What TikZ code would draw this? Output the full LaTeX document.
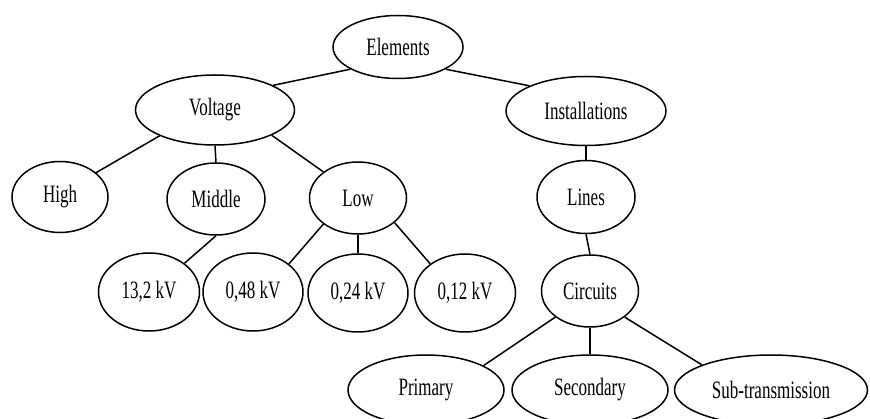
\documentclass[tikz,border=0pt]{standalone}
\usepackage{fontspec}
\setmainfont{Liberation Serif}[FakeStretch=0.68]
\usetikzlibrary{shapes.geometric}

\begin{document}
\begin{tikzpicture}[x=1pt,y=1pt,
  elem/.style={ellipse,draw,line width=1.5pt,inner sep=0pt,
    font=\fontsize{25}{29}\selectfont},
  link/.style={line width=1.5pt}]
\useasboundingbox (0,0) rectangle (870,-419);

% top levels
\node[elem,minimum width=130,minimum height=63] (elements) at (398,-47) {Elements};
\node[elem,minimum width=159,minimum height=70] (voltage) at (215,-110) {Voltage};
\node[elem,minimum width=160,minimum height=69] (installations) at (586,-111) {Installations};

\node[elem,minimum width=96,minimum height=71] (high) at (60,-197) {High};
\node[elem,minimum width=98,minimum height=72] (middle) at (216,-199) {Middle};
\node[elem,minimum width=97,minimum height=72] (low) at (358,-198) {Low};
\node[elem,minimum width=98,minimum height=73] (lines) at (586,-197) {Lines};

\node[elem,minimum width=101,minimum height=78] (kv132) at (149,-292) {13,2 kV};
\node[elem,minimum width=100,minimum height=78] (kv048) at (253,-292) {0,48 kV};
\node[elem,minimum width=100,minimum height=78] (kv024) at (358,-293) {0,24 kV};
\node[elem,minimum width=101,minimum height=78] (kv012) at (465,-293) {0,12 kV};
\node[elem,minimum width=97,minimum height=72] (circuits) at (590,-291) {Circuits};

\node[elem,minimum width=156,minimum height=70] (primary) at (426,-390) {Primary};
\node[elem,minimum width=156,minimum height=70] (secondary) at (590,-390) {Secondary};
\node[elem,minimum width=193,minimum height=70] (subtrans) at (771,-390) {Sub-transmission};

% links
\draw[link] (elements.205) -- (voltage.23);
\draw[link] (elements.335) -- (installations.156);
\draw[link] (voltage.205) -- (high.34);
\draw[link] (voltage.south) -- (middle.north);
\draw[link] (voltage.336) -- (low.143);
\draw[link] (middle.south) -- (kv132.39);
\draw[link] (low.217) -- (kv048.38);
\draw[link] (low.south) -- (kv024.north);
\draw[link] (low.326) -- (kv012.140);
\draw[link] (installations.south) -- (lines.north);
\draw[link] (lines.south) -- (circuits.north);
\draw[link] (circuits.217) -- (primary.23);
\draw[link] (circuits.south) -- (secondary.north);
\draw[link] (circuits.323) -- (subtrans.160);
\end{tikzpicture}
\end{document}
